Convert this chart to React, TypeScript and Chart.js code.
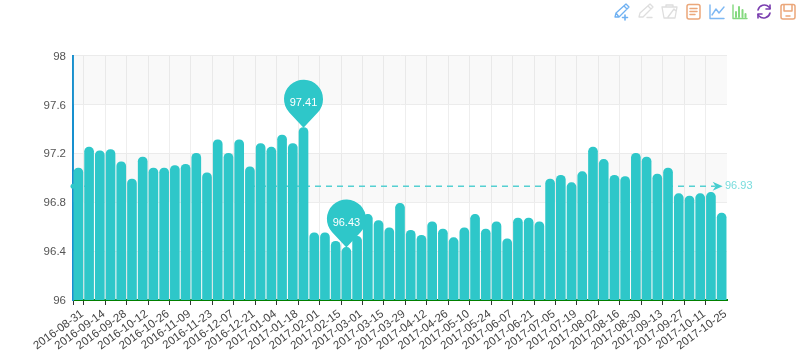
import React, { useEffect, useRef } from "react";
import { Chart, registerables } from "chart.js";

Chart.register(...registerables);

const categories = [
  "2016-08-31","2016-09-07","2016-09-14","2016-09-21","2016-09-28","2016-10-05","2016-10-12","2016-10-19",
  "2016-10-26","2016-11-02","2016-11-09","2016-11-16","2016-11-23","2016-11-30","2016-12-07","2016-12-14",
  "2016-12-21","2016-12-28","2017-01-04","2017-01-11","2017-01-18","2017-01-25","2017-02-01","2017-02-08",
  "2017-02-15","2017-02-22","2017-03-01","2017-03-08","2017-03-15","2017-03-22","2017-03-29","2017-04-05",
  "2017-04-12","2017-04-19","2017-04-26","2017-05-03","2017-05-10","2017-05-17","2017-05-24","2017-05-31",
  "2017-06-07","2017-06-14","2017-06-21","2017-06-28","2017-07-05","2017-07-12","2017-07-19","2017-07-26",
  "2017-08-02","2017-08-09","2017-08-16","2017-08-23","2017-08-30","2017-09-06","2017-09-13","2017-09-20",
  "2017-09-27","2017-10-04","2017-10-11","2017-10-18","2017-10-25",
];

const values = [
  97.08,97.25,97.22,97.23,97.13,96.99,97.17,97.08,97.08,97.10,97.11,97.20,97.04,97.31,97.20,97.31,
  97.09,97.28,97.25,97.35,97.28,97.41,96.55,96.55,96.48,96.43,96.52,96.70,96.65,96.59,96.79,96.57,
  96.53,96.64,96.58,96.51,96.59,96.70,96.58,96.64,96.50,96.67,96.67,96.64,96.99,97.02,96.96,97.05,
  97.25,97.15,97.02,97.01,97.20,97.17,97.03,97.08,96.87,96.85,96.87,96.88,96.71,
];

const averageValue = 96.93;
const pinIndices = [21, 25];
const shadedBands = [[97.6, 98], [96.8, 97.2], [96, 96.4]];

const TEAL = "#2ec7c9";
const FONT = "'Liberation Sans', Arial, sans-serif";

const bandsPlugin = {
  id: "bands",
  beforeDatasetsDraw(chart: any) {
    const { ctx, chartArea, scales } = chart;
    ctx.save();
    ctx.fillStyle = "rgba(200,200,200,0.1)";
    for (const [lo, hi] of shadedBands) {
      const top = scales.y.getPixelForValue(hi);
      const bottom = scales.y.getPixelForValue(lo);
      ctx.fillRect(chartArea.left, top, chartArea.right - chartArea.left, bottom - top);
    }
    const avgY = scales.y.getPixelForValue(averageValue);
    const endX = scales.x.getPixelForValue(categories.length - 1);
    ctx.strokeStyle = "#55d0d2";
    ctx.lineWidth = 1.5;
    ctx.setLineDash([6, 5]);
    ctx.beginPath();
    ctx.moveTo(chartArea.left, avgY);
    ctx.lineTo(endX - 6, avgY);
    ctx.stroke();
    ctx.restore();
  },
};

const marksPlugin = {
  id: "marks",
  afterDatasetsDraw(chart: any) {
    const { ctx, chartArea, scales } = chart;
    const avgY = scales.y.getPixelForValue(averageValue);
    const startX = chartArea.left;
    const endX = scales.x.getPixelForValue(categories.length - 1);
    ctx.save();
    ctx.fillStyle = TEAL;
    ctx.beginPath();
    ctx.arc(startX, avgY, 2.5, 0, Math.PI * 2);
    ctx.fill();
    ctx.fillStyle = "#45cdcf";
    ctx.beginPath();
    ctx.moveTo(endX + 1, avgY);
    ctx.lineTo(endX - 9, avgY - 4.5);
    ctx.lineTo(endX - 6, avgY);
    ctx.lineTo(endX - 9, avgY + 4.5);
    ctx.closePath();
    ctx.fill();
    ctx.font = `11px ${FONT}`;
    ctx.textAlign = "left";
    ctx.textBaseline = "middle";
    ctx.fillStyle = "#79dcdd";
    ctx.fillText(averageValue.toFixed(2), chartArea.right - 2, avgY);

    for (const idx of pinIndices) {
      const tipX = scales.x.getPixelForValue(idx);
      const tipY = scales.y.getPixelForValue(values[idx]);
      const r = 19.5;
      const d = 28.5;
      const a = Math.acos(r / d);
      const cy = tipY - d;
      ctx.fillStyle = TEAL;
      ctx.beginPath();
      ctx.arc(tipX, cy, r, Math.PI / 2 + a, Math.PI / 2 - a);
      ctx.lineTo(tipX, tipY);
      ctx.closePath();
      ctx.fill();
      ctx.fillStyle = "#fff";
      ctx.font = `11px ${FONT}`;
      ctx.textAlign = "center";
      ctx.textBaseline = "middle";
      ctx.fillText(values[idx].toFixed(2), tipX, cy + 4);
    }
    ctx.restore();
  },
};

function Toolbox() {
  const common = { fill: "none", strokeWidth: 1.3, strokeLinejoin: "round" as const, strokeLinecap: "round" as const };
  return (
    <svg width={800} height={40} style={{ position: "absolute", left: 0, top: 0 }}>
      <g {...common} stroke="#6fb1f2">
        <path d="M615 17l1-4 10-9 3 3-10 10z M624 6l3 3 M616 13l3 4" />
        <path d="M625 15v5 M622.500 17.500h5" strokeWidth={1.6} />
      </g>
      <g {...common} stroke="#dedede">
        <path d="M639 17l1-4 10-9 3 3-10 10z M648 6l3 3" />
        <path d="M647 17.500h5" />
      </g>
      <g {...common} stroke="#dedede">
        <path d="M662 7h15l-2 11h-11z M666 7v-2h7v2 M668 17l6-8 2 2" />
      </g>
      <g {...common} stroke="#eba77a" strokeWidth={1.5}>
        <rect x={687} y={4.500} width={13} height={14.500} rx={2} />
        <path d="M690 8.500h7 M690 11.500h7 M690 14.500h5" />
      </g>
      <g {...common} stroke="#7db8f3" strokeWidth={1.4}>
        <path d="M710 5v13.500h14 M712 15l4-6 3 4 5-6" />
      </g>
      <g {...common} stroke="#84d97f" strokeWidth={1.4}>
        <path d="M733 5v13.500h14" />
        <path d="M736 17v-5 M739 17v-10 M742.500 17v-7 M745.500 17v-3" strokeWidth={2} />
      </g>
      <g {...common} stroke="#7b3fb0" strokeWidth={1.6}>
        <path d="M758 10a6.500 6.500 0 0 1 11-3l1 1.500 M770 13a6.500 6.500 0 0 1-11 3l-1-1.500" />
        <path d="M770 5v4h-4 M758 18v-4h4" />
      </g>
      <g {...common} stroke="#eba77a" strokeWidth={1.5}>
        <rect x={781} y={4.500} width={14} height={14.500} rx={2} />
        <path d="M784 5v6h8v-6 M786 16h4" />
      </g>
    </svg>
  );
}

export default function App() {
  const ref = useRef<HTMLCanvasElement>(null);
  useEffect(() => {
    document.body.style.margin = "0";
    const chart = new Chart(ref.current!, {
      type: "bar",
      data: {
        labels: categories,
        datasets: [
          {
            data: values,
            backgroundColor: TEAL,
            barThickness: 9,
            borderRadius: 4.5,
            borderSkipped: false,
          },
        ],
      },
      options: {
        animation: false,
        responsive: false,
        layout: { padding: { top: 55.5, right: 73, left: 0, bottom: 0 } },
        plugins: { legend: { display: false }, tooltip: { enabled: false } },
        scales: {
          x: {
            afterFit(s: any) { s.height = 54; s.paddingLeft = 0; s.paddingRight = 0; },
            grid: {
              offset: true,
              lineWidth: 1,
              tickLength: 5,
              color: (c: any) => (c.index === 0 || c.index % 2 === 1 || c.index === categories.length ? "#eeeeee" : "transparent"),
              tickColor: (c: any) => (c.index === 0 || c.index % 2 === 1 || c.index === categories.length ? "#333333" : "transparent"),
            },
            border: { color: "#008000", width: 2 },
            ticks: {
              autoSkip: false,
              maxRotation: 36,
              minRotation: 36,
              padding: 2,
              labelOffset: 4,
              color: "#444",
              font: { family: FONT, size: 11.5 },
              callback: (_v: any, i: number) => (i % 2 === 0 ? categories[i] : ""),
            },
          },
          y: {
            min: 96,
            max: 98,
            afterFit(s: any) { s.width = 73; },
            grid: { color: "#eeeeee", lineWidth: 1, drawTicks: false },
            border: { color: "#1790cf", width: 2 },
            ticks: {
              stepSize: 0.4,
              padding: 7,
              labelOffset: 1,
              color: "#555",
              font: { family: FONT, size: 11.5 },
              callback: (v: any) => String(Number(Number(v).toFixed(1))),
            },
          },
        },
      } as any,
      plugins: [bandsPlugin, marksPlugin],
    });
    return () => chart.destroy();
  }, []);
  return (
    <div style={{ position: "relative", width: 800, height: 354 }}>
      <canvas ref={ref} width={800} height={354} style={{ display: "block" }} />
      <Toolbox />
    </div>
  );
}
